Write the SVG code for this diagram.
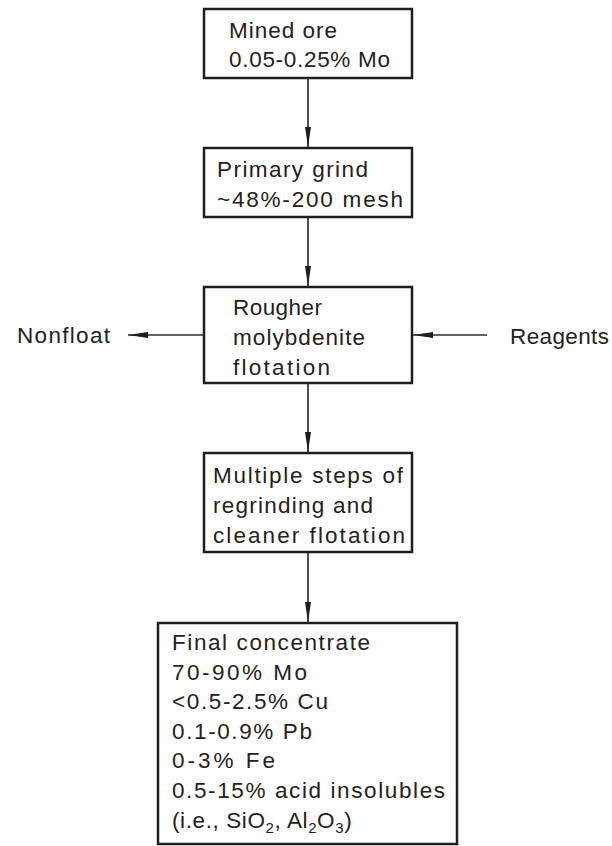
<svg xmlns="http://www.w3.org/2000/svg" width="612" height="846" viewBox="0 0 612 846">
  <style>
    .box { fill: #ffffff; stroke: #1e1e1e; stroke-width: 2.5; }
    .lbl { font-family: "Liberation Sans", Arial, sans-serif; font-size: 22.5px; fill: #222222; }
    .sub { font-size: 15px; }
    .edge { stroke: #2e2e2e; stroke-width: 1.7; fill: none; marker-end: url(#head); }
  </style>
  <defs>
    <marker id="head" viewBox="0 0 20 6" refX="20" refY="3" markerWidth="20" markerHeight="6" markerUnits="userSpaceOnUse" orient="auto">
      <path d="M0,0 L20,3 L0,6 Z" fill="#1e1e1e"/>
    </marker>
  </defs>
  <rect width="612" height="846" fill="#ffffff"/>

  <g id="connectors">
    <line class="edge" x1="308" y1="79" x2="308" y2="147"/>
    <line class="edge" x1="308" y1="218" x2="308" y2="286"/>
    <line class="edge" x1="308" y1="384" x2="308" y2="452"/>
    <line class="edge" x1="308" y1="553" x2="308" y2="622"/>
    <line class="edge" x1="203" y1="335" x2="128" y2="335"/>
    <line class="edge" x1="487" y1="335" x2="413" y2="335"/>
  </g>

  <g id="mined-ore">
    <rect class="box" x="204" y="9" width="208" height="69"/>
    <text class="lbl" x="229" y="38" textLength="108" lengthAdjust="spacing">Mined ore</text>
    <text class="lbl" x="229" y="67" textLength="161" lengthAdjust="spacing">0.05-0.25% Mo</text>
  </g>

  <g id="primary-grind">
    <rect class="box" x="204" y="148" width="208" height="69"/>
    <text class="lbl" x="217" y="177" textLength="151" lengthAdjust="spacing">Primary grind</text>
    <text class="lbl" x="217" y="207" textLength="186" lengthAdjust="spacing">~48%-200 mesh</text>
  </g>

  <g id="rougher-flotation">
    <rect class="box" x="204" y="287" width="208" height="96"/>
    <text class="lbl" x="233" y="315" textLength="89" lengthAdjust="spacing">Rougher</text>
    <text class="lbl" x="233" y="345" textLength="132" lengthAdjust="spacing">molybdenite</text>
    <text class="lbl" x="233" y="375" textLength="97" lengthAdjust="spacing">flotation</text>
  </g>

  <g id="nonfloat">
    <text class="lbl" x="17" y="343" textLength="93" lengthAdjust="spacing">Nonfloat</text>
  </g>

  <g id="reagents">
    <text class="lbl" x="510" y="344" textLength="99" lengthAdjust="spacing">Reagents</text>
  </g>

  <g id="cleaner-flotation">
    <rect class="box" x="204" y="453" width="208" height="99"/>
    <text class="lbl" x="213" y="483" textLength="190" lengthAdjust="spacing">Multiple steps of</text>
    <text class="lbl" x="213" y="513" textLength="160" lengthAdjust="spacing">regrinding and</text>
    <text class="lbl" x="213" y="543" textLength="192" lengthAdjust="spacing">cleaner flotation</text>
  </g>

  <g id="final-concentrate">
    <rect class="box" x="158" y="623" width="299" height="221"/>
    <text class="lbl" x="172" y="650" textLength="198" lengthAdjust="spacing">Final concentrate</text>
    <text class="lbl" x="172" y="680" textLength="135" lengthAdjust="spacing">70-90% Mo</text>
    <text class="lbl" x="172" y="709" textLength="156" lengthAdjust="spacing">&lt;0.5-2.5% Cu</text>
    <text class="lbl" x="172" y="739" textLength="140" lengthAdjust="spacing">0.1-0.9% Pb</text>
    <text class="lbl" x="172" y="768" textLength="103" lengthAdjust="spacing">0-3% Fe</text>
    <text class="lbl" x="172" y="798" textLength="273" lengthAdjust="spacing">0.5-15% acid insolubles</text>
    <text class="lbl" x="172" y="828" letter-spacing="0.6">(i.e., SiO<tspan class="sub" dy="5">2</tspan><tspan dy="-5">, Al</tspan><tspan class="sub" dy="5">2</tspan><tspan dy="-5">O</tspan><tspan class="sub" dy="5">3</tspan><tspan dy="-5">)</tspan></text>
  </g>
</svg>
